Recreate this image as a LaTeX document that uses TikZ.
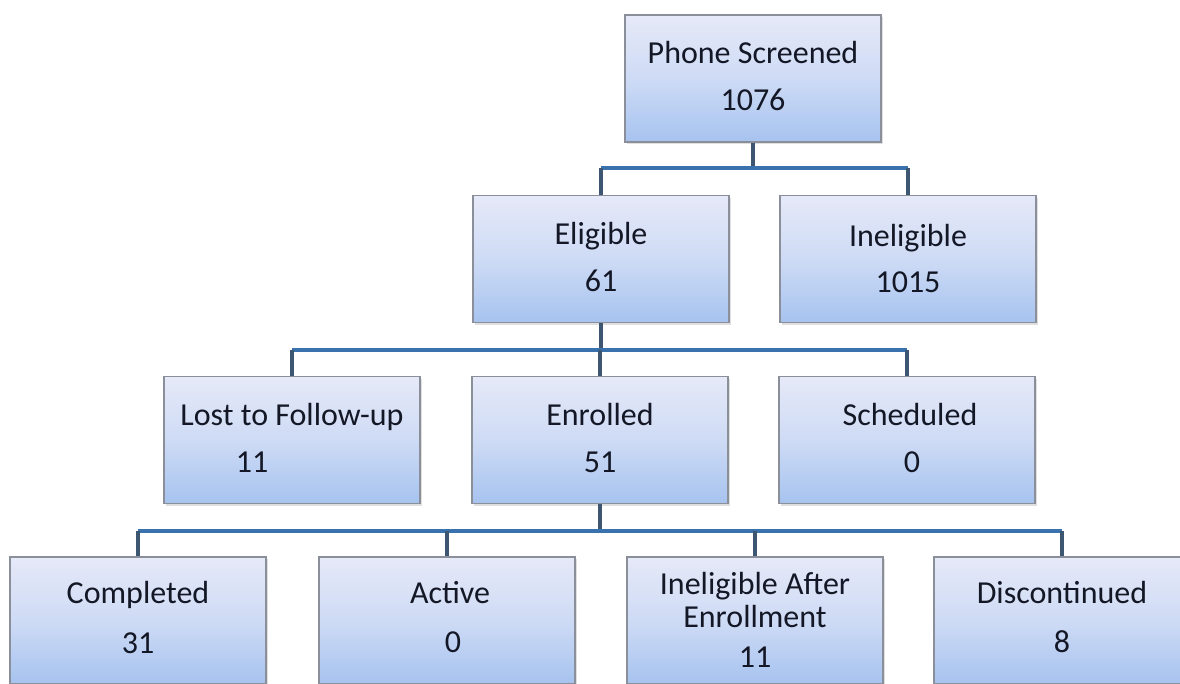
\documentclass[tikz,border=0pt]{standalone}
\usepackage{fontspec}
\setmainfont{Carlito}
\usetikzlibrary{shadows}
\definecolor{boxtop}{HTML}{E6E9F8}
\definecolor{boxmid}{HTML}{CEDBF5}
\definecolor{boxbot}{HTML}{A6C3EF}
\definecolor{boxline}{HTML}{8A8F9A}
\definecolor{buscol}{HTML}{3A72AE}
\definecolor{stemcol}{HTML}{3D5672}
\definecolor{txtcol}{HTML}{141826}
\tikzset{
  box/.style={rectangle, draw=boxline, line width=1.1pt, minimum width=256pt, minimum height=127pt,
    top color=boxtop, bottom color=boxbot, middle color=boxmid, inner sep=0pt,
    drop shadow={opacity=0.25, shadow xshift=2pt, shadow yshift=-2pt}},
  txt/.style={anchor=base, text=txtcol, inner sep=0pt, font=\fontsize{32}{39}\selectfont},
  bus/.style={draw=buscol, line width=3.5pt},
  stem/.style={draw=stemcol, line width=3.5pt}
}
\begin{document}
\begin{tikzpicture}[x=1pt,y=-1pt]
\useasboundingbox (0,0) rectangle (1180,683);
\clip (0,0) rectangle (1180,683);
\fill[white] (0,0) rectangle (1180,683);
% boxes
\node[box] (phone) at (753,78.5) {};
\node[box] (elig) at (601,259) {};
\node[box] (inel) at (908,259) {};
\node[box] (lost) at (292,440) {};
\node[box] (enr) at (600,440) {};
\node[box] (sched) at (907,440) {};
\node[box] (comp) at (138,620.5) {};
\node[box] (act) at (447,620.5) {};
\node[box] (iae) at (755,620.5) {};
\node[box] (disc) at (1062,620.5) {};
% texts
\node[txt] (phone-a) at (753,63) {Phone Screened};
\node[txt] (phone-b) at (753,110) {1076};
\node[txt] (elig-a) at (601,244) {Eligible};
\node[txt] (elig-b) at (601,291) {61};
\node[txt] (inel-a) at (908,246) {Ineligible};
\node[txt] (inel-b) at (908,292) {1015};
\node[txt] (lost-a) at (292,425) {Lost to Follow-up};
\node[txt] (lost-b) at (252,472) {11};
\node[txt] (enr-a) at (600,425) {Enrolled};
\node[txt] (enr-b) at (600,472) {51};
\node[txt] (sched-a) at (910,425) {Scheduled};
\node[txt] (sched-b) at (912,472) {0};
\node[txt] (comp-a) at (138,603) {Completed};
\node[txt] (comp-b) at (138,653) {31};
\node[txt] (act-a) at (450,603) {Active};
\node[txt] (act-b) at (453,652) {0};
\node[txt] (iae-a) at (755,594) {Ineligible After};
\node[txt] (iae-c) at (755,627) {Enrollment};
\node[txt] (iae-b) at (755,667) {11};
\node[txt] (disc-a) at (1062,603) {Discontinued};
\node[txt] (disc-b) at (1062,652) {8};
% bus coordinates
\coordinate (b1) at (753,168);
\coordinate (b2) at (601,350);
\coordinate (b3) at (600,531);
% level 1 -> 2
\draw[stem] (phone.south) -- (b1);
\draw[bus] (elig.north |- b1) -- (inel.north |- b1);
\draw[stem] (elig.north |- b1) -- (elig.north);
\draw[stem] (inel.north |- b1) -- (inel.north);
% level 2 -> 3
\draw[stem] (elig.south) -- (b2);
\draw[bus] (lost.north |- b2) -- (sched.north |- b2);
\draw[stem] (lost.north |- b2) -- (lost.north);
\draw[stem] (enr.north |- b2) -- (enr.north);
\draw[stem] (sched.north |- b2) -- (sched.north);
% level 3 -> 4
\draw[stem] (enr.south) -- (b3);
\draw[bus] (comp.north |- b3) -- (disc.north |- b3);
\draw[stem] (comp.north |- b3) -- (comp.north);
\draw[stem] (act.north |- b3) -- (act.north);
\draw[stem] (iae.north |- b3) -- (iae.north);
\draw[stem] (disc.north |- b3) -- (disc.north);
\end{tikzpicture}
\end{document}
